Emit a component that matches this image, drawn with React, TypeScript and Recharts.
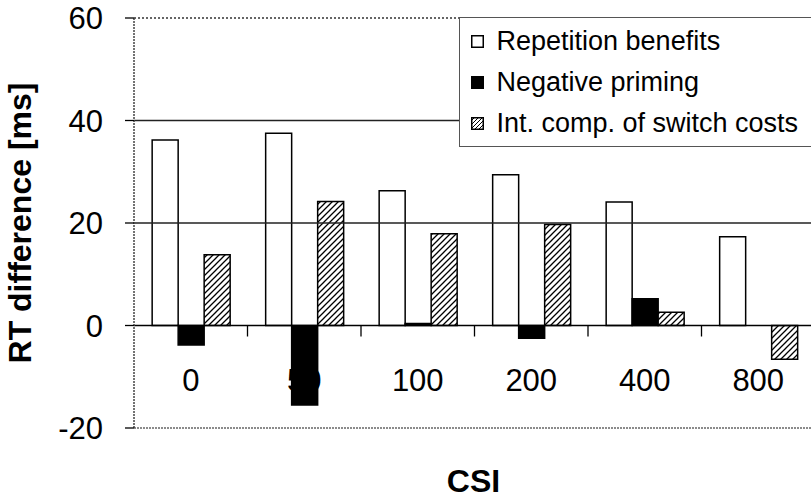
import React from 'react';
import { BarChart, Bar, XAxis, YAxis, ReferenceLine, Legend } from 'recharts';

const categories = ['0', '50', '100', '200', '400', '800'];
const repetitionBenefits = [36.2, 37.5, 26.3, 29.4, 24.1, 17.3];
const negativePriming = [-3.8, -15.5, 0.4, -2.5, 5.2, 0];
const intCompSwitchCosts = [13.8, 24.2, 17.9, 19.7, 2.6, -6.6];
const yTicks = [-20, 0, 20, 40, 60];
const seriesNames = ['Repetition benefits', 'Negative priming', 'Int. comp. of switch costs'];

const data = categories.map((c, i) => ({
  csi: c,
  rb: repetitionBenefits[i],
  np: negativePriming[i],
  ic: intCompSwitchCosts[i],
}));

const FONT = '"Liberation Sans", Arial, Helvetica, sans-serif';
const CHART_W = 815;
const CHART_H = 498;
const Y_AXIS_W = 60;
const MARGIN = { top: 18, right: 0, left: 134 - Y_AXIS_W, bottom: 40 };
const X_AXIS_H = 30;
const PLOT_TOP = MARGIN.top;
const PLOT_H = CHART_H - MARGIN.top - MARGIN.bottom - X_AXIS_H;
const PLOT_LEFT = MARGIN.left + Y_AXIS_W;
const PLOT_W = CHART_W - PLOT_LEFT - MARGIN.right;
const Y_MIN = -20;
const Y_MAX = 60;
const ZERO_Y = PLOT_TOP + (PLOT_H * (Y_MAX - 0)) / (Y_MAX - Y_MIN);
const BAND = PLOT_W / categories.length;

const CsiTick = (props: any) => {
  const { x, payload, index } = props;
  return (
    <g>
      <text x={x} y={ZERO_Y + 65} textAnchor="middle" fontSize={31} fontFamily={FONT} fill="#000">
        {payload.value}
      </text>
      {index < categories.length - 1 && (
        <line x1={x + BAND / 2} x2={x + BAND / 2} y1={ZERO_Y} y2={ZERO_Y + 11} stroke="#000" strokeWidth={1.3} />
      )}
    </g>
  );
};

const YTick = (props: any) => {
  const { x, y, payload } = props;
  return (
    <text x={x} y={y} dy={11} textAnchor="end" fontSize={31} fontFamily={FONT} fill="#000">
      {payload.value}
    </text>
  );
};

const Icon = ({ kind }: { kind: number }) => (
  <svg width={13} height={13} style={{ display: 'block' }}>
    <defs>
      <pattern id="legendHatch" patternUnits="userSpaceOnUse" width={4} height={4}>
        <rect width={4} height={4} fill="#fff" />
        <path d="M0,4 L4,0 M-1,1 L1,-1 M3,5 L5,3" stroke="#000" strokeWidth={1} />
      </pattern>
    </defs>
    <rect
      x={0.75}
      y={0.75}
      width={11.5}
      height={11.5}
      fill={kind === 0 ? '#fff' : kind === 1 ? '#000' : 'url(#legendHatch)'}
      stroke="#000"
      strokeWidth={1.5}
    />
  </svg>
);

const LegendBox = () => (
  <div
    style={{
      boxSizing: 'border-box',
      width: 370,
      height: 130,
      border: '1.5px solid #555',
      background: '#fff',
      paddingTop: 3,
      paddingLeft: 10.5,
      fontFamily: FONT,
      fontSize: 27,
      color: '#000',
    }}
  >
    {seriesNames.map((name, i) => (
      <div key={name} style={{ display: 'flex', alignItems: 'center', height: 41, whiteSpace: 'nowrap' }}>
        <Icon kind={i} />
        <span style={{ marginLeft: 13, lineHeight: '41px' }}>{name}</span>
      </div>
    ))}
  </div>
);

export default function App() {
  return (
    <div style={{ position: 'absolute', left: 0, top: 0, width: 811, height: 498, overflow: 'hidden', background: '#fff' }}>
      <BarChart
        width={CHART_W}
        height={CHART_H}
        data={data}
        margin={MARGIN}
        barCategoryGap="16%"
        barGap={0}
      >
        <defs>
          <pattern id="hatch" patternUnits="userSpaceOnUse" width={6} height={6}>
            <rect width={6} height={6} fill="#fff" />
            <path d="M0,6 L6,0 M-1.5,1.5 L1.5,-1.5 M4.5,7.5 L7.5,4.5" stroke="#000" strokeWidth={1.3} />
          </pattern>
        </defs>
        <XAxis
          dataKey="csi"
          height={X_AXIS_H}
          axisLine={false}
          tickLine={false}
          interval={0}
          tick={<CsiTick />}
          label={(p: any) => (
            <text
              x={PLOT_LEFT + PLOT_W / 2 - 1}
              y={492}
              textAnchor="middle"
              fontSize={32}
              fontWeight="bold"
              fontFamily={FONT}
              fill="#000"
            >
              CSI
            </text>
          )}
        />
        <YAxis
          width={Y_AXIS_W}
          domain={[Y_MIN, Y_MAX]}
          ticks={yTicks}
          interval={0}
          axisLine={{ stroke: '#444', strokeWidth: 1.5, strokeDasharray: '2 1' }}
          tickLine={{ stroke: '#000', strokeWidth: 1.3 }}
          tickSize={9}
          tickMargin={22}
          tick={<YTick />}
          label={(p: any) => (
            <text
              x={20}
              y={PLOT_TOP + PLOT_H / 2}
              transform={`rotate(-90, 20, ${PLOT_TOP + PLOT_H / 2})`}
              textAnchor="middle"
              dominantBaseline="central"
              fontSize={32}
              fontWeight="bold"
              fontFamily={FONT}
              fill="#000"
            >
              RT difference [ms]
            </text>
          )}
        />
        <ReferenceLine y={60} stroke="#333" strokeWidth={1.5} strokeDasharray="2 2" />
        <ReferenceLine y={40} stroke="#222" strokeWidth={1.5} />
        <ReferenceLine y={20} stroke="#222" strokeWidth={1.5} />
        <ReferenceLine y={-20} stroke="#666" strokeWidth={1.5} strokeDasharray="2 1" />
        <Bar dataKey="rb" name={seriesNames[0]} fill="#fff" stroke="#000" strokeWidth={1.5} isAnimationActive={false} />
        <Bar dataKey="np" name={seriesNames[1]} fill="#000" stroke="#000" strokeWidth={1.5} isAnimationActive={false} />
        <Bar dataKey="ic" name={seriesNames[2]} fill="url(#hatch)" stroke="#000" strokeWidth={1.5} isAnimationActive={false} />
        <ReferenceLine y={0} stroke="#000" strokeWidth={1.5} />
        <Legend
          layout="horizontal"
          verticalAlign="middle"
          align="center"
          content={() => <LegendBox />}
          wrapperStyle={{ left: 459, top: 17, width: 370, height: 130 }}
        />
      </BarChart>
    </div>
  );
}
